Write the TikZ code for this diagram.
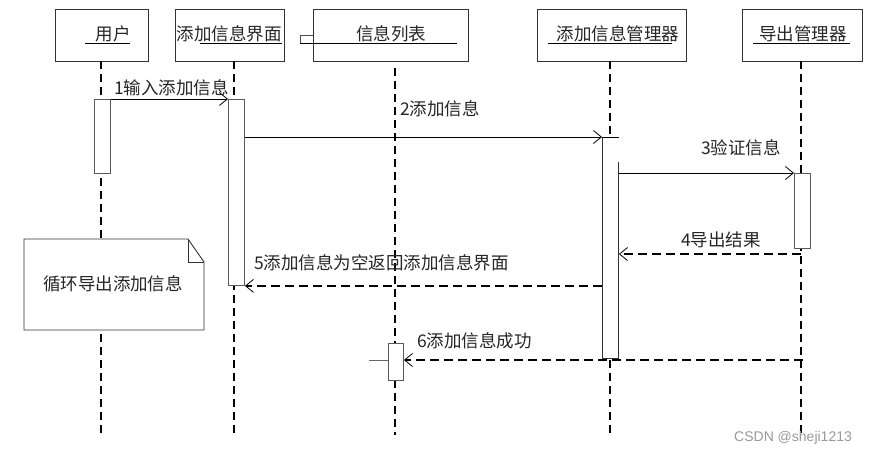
\documentclass[tikz,border=0pt]{standalone}
\usepackage{fontspec}
\setmainfont{Noto Sans CJK SC}
\newfontfamily\wmfont{Liberation Sans}
\usetikzlibrary{arrows.meta}
\begin{document}
\begin{tikzpicture}[x=1pt,y=-1pt,
  lbl/.style={font=\fontsize{17.5}{20}\selectfont, inner sep=0pt, text=black!85},
  obj/.style={draw=black!80, line width=0.9pt, minimum height=52pt, inner sep=0pt, anchor=north west},
  uline/.style={draw=black, line width=0.9pt},
  life/.style={draw=black, line width=1.7pt, dash pattern=on 8pt off 5pt},
  act/.style={draw=black!65, fill=white, line width=0.9pt, inner sep=0pt, anchor=north west, minimum width=16pt},
  msg/.style={draw=black, line width=0.8pt, -{Straight Barb[length=8pt,width=13pt]}},
  ret/.style={draw=black, line width=1.5pt, dash pattern=on 9pt off 5pt, -{Straight Barb[length=8pt,width=13pt,line width=0.8pt]}}
]
\useasboundingbox (0,0) rectangle (871,455);
\fill[white] (0,0) rectangle (871,455);

% object boxes
\node[obj, minimum width=93pt] (user) at (55,9) {};
\node[obj, minimum width=109pt] (ui) at (175,9) {};
\node[obj, minimum width=155pt] (list) at (313,9) {};
\node[obj, minimum width=149pt] (mgr) at (537,9) {};
\node[obj, minimum width=120pt] (exp) at (742,9) {};

\node[lbl] (userT) at (113,34) {用户};
\node[lbl] (uiT) at (229,34) {添加信息界面};
\node[lbl] (listT) at (391,34) {信息列表};
\node[lbl] (mgrT) at (618,34) {添加信息管理器};
\node[lbl] (expT) at (803,34) {导出管理器};

\draw[uline] (85,43) -- (130,43);
\draw[uline] (200,43) -- (282,43);
\draw[uline] (300,43) -- (457,43);
\draw[uline] (548,43) -- (672,43);
\draw[uline] (753,43) -- (850,43);
\draw[draw=black!70, line width=0.9pt] (313,35) -- (300,35) -- (300,43);

% lifelines
\coordinate (uT) at (101,61);  \coordinate (uB) at (101,435);
\coordinate (iT) at (234,61);  \coordinate (iB) at (234,435);
\coordinate (lT) at (395,68);  \coordinate (lB) at (395,435);
\coordinate (mT) at (610,61);  \coordinate (mB) at (610,435);
\coordinate (eT) at (801,61);  \coordinate (eB) at (801,435);
\draw[life] (uT) -- (uB);
\draw[life] (iT) -- (iB);
\draw[life] (lT) -- (lB);
\draw[life] (mT) -- (mB);
\draw[life] (eT) -- (eB);

% note
\draw[draw=black!80, fill=white, line width=0.9pt] (24,239) -- (188,239) -- (204,262) -- (204,330) -- (24,330) -- cycle;
\draw[draw=black!80, line width=0.9pt] (188,239) -- (188,262) -- (204,262);
\node[lbl] (noteT) at (113,284) {循环导出添加信息};

% activations
\node[act, minimum height=74pt] (ua) at (94,99) {};
\node[act, minimum height=186pt] (ia) at (228,99) {};
\node[act, draw=none, minimum height=221pt] (ma) at (602,137) {};
\draw[draw=black!80, line width=0.9pt] (ma.north west) -- (ma.south west) -- (ma.south east) -- ([yshift=-25pt]ma.north east);
\draw[draw=black, line width=0.8pt] (ma.north west) -- (ma.north east);
\node[act, minimum height=75pt] (ea) at (794,173) {};
\node[act, minimum width=15pt, minimum height=37pt] (la) at (388,343) {};

% messages
\draw[msg] (ua.north east) -- (ia.north west);
\draw[msg] (ia.east |- ma.north west) -- (ma.north west);
\draw[msg] (ma.east |- ea.north west) -- (ea.north west);
\coordinate (e4) at (801,254);
\draw[ret] (e4) -- (ma.east |- e4);
\draw[ret] (ma.west |- ia.south east) -- (ia.south east);
\coordinate (e6) at (803,360);
\draw[ret] (e6) -- (la.east |- e6);
\coordinate (lstub) at (369,360);
\draw[draw=black!60, line width=0.9pt] (lstub) -- (la.west |- lstub);

% labels
\node[lbl, anchor=west] (m1) at (114,88) {1输入添加信息};
\node[lbl, anchor=west] (m2) at (400,109) {2添加信息};
\node[lbl, anchor=west] (m3) at (701,148) {3验证信息};
\node[lbl, anchor=west] (m4) at (681,240) {4导出结果};
\node[lbl, anchor=west] (m5) at (254,263) {5添加信息为空返回添加信息界面};
\node[lbl, anchor=west] (m6) at (417,341) {6添加信息成功};

% watermark
\node[font=\wmfont\fontsize{14}{16}\selectfont, text=black!40, inner sep=0pt, anchor=west] (wm) at (734,438) {CSDN @sheji1213};
\end{tikzpicture}
\end{document}
